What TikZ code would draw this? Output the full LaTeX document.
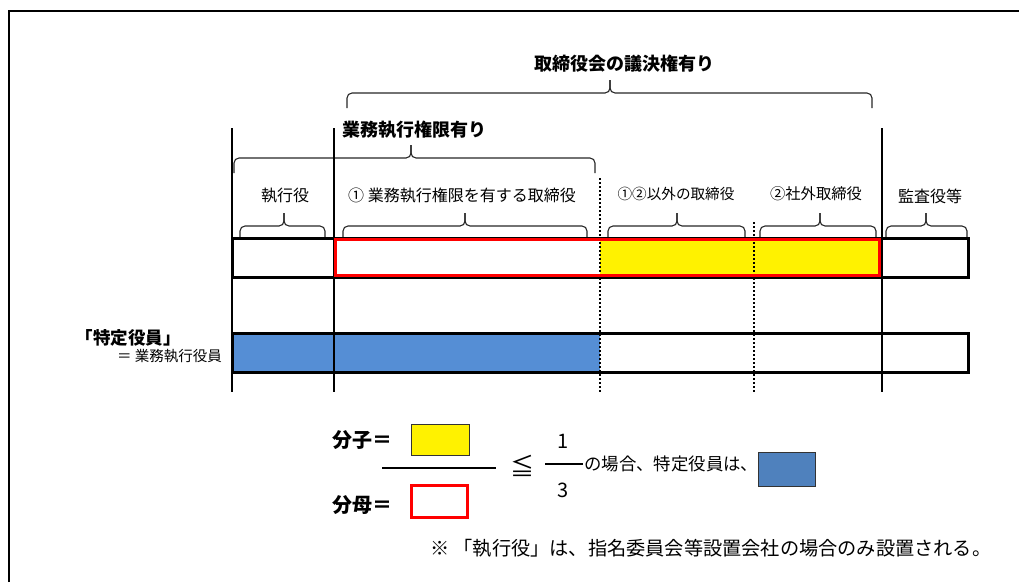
\documentclass[tikz,border=0pt]{standalone}
\usepackage{fontspec}
\setmainfont{Noto Sans CJK JP}
\definecolor{barblue}{RGB}{85,142,213}
\definecolor{boxblue}{RGB}{79,129,189}
\newcommand{\mybrace}[6]{%
  \draw[bracestyle] (#1,#4) -- (#1,#5) -- (#3,#5) -- (#3,#6);
  \draw[bracestyle] (#2,#4) -- (#2,#5) -- (#3,#5) -- (#3,#6);}
\begin{document}
\begin{tikzpicture}[x=1pt,y=-1pt,
  bracestyle/.style={line width=1.1pt,rounded corners=5pt,black!85},
  lbl/.style={inner sep=0pt,font=\fontsize{16}{16}\selectfont},
  blbl/.style={inner sep=0pt,font=\fontsize{18}{18}\selectfont\bfseries},
  vline/.style={line width=1.2pt},
  dotline/.style={line width=2.2pt,dash pattern=on 2pt off 2pt},
  barout/.style={line width=3pt}]
\useasboundingbox (0,0) rectangle (1019,582);
% frame
\draw[line width=2.5pt] (9,582) -- (9,11) -- (1019,11);
% top labels
\node[blbl] (t1) at (624,64) {取締役会の議決権有り};
\node[blbl,anchor=west] (t2) at (342,130) {業務執行権限有り};
\mybrace{347}{872}{610}{108}{93}{80}
\mybrace{234}{595}{411}{173}{158}{145}
% row labels
\node[lbl] (l1) at (285,196) {執行役};
\node[lbl] (l2) at (462,196) {① 業務執行権限を有する取締役};
\node[lbl,font=\fontsize{14.6}{14.6}\selectfont] (l3) at (676,194) {①②以外の取締役};
\node[lbl,font=\fontsize{15.3}{15.3}\selectfont] (l4) at (816,194) {②社外取締役};
\node[lbl] (l5) at (930,196) {監査役等};
\mybrace{240}{325}{284}{237}{226}{213}
\mybrace{343}{587}{465}{237}{226}{213}
\mybrace{608}{745}{677}{237}{226}{213}
\mybrace{760}{876}{820}{237}{226}{213}
\mybrace{886}{967}{926}{237}{226}{213}
% top bar
\fill[yellow] (600,238) rectangle (881,277);
\draw[barout] (232,238) rectangle (968,277);
% bottom bar
\fill[barblue] (232,333) rectangle (600,372);
\draw[barout] (232,333) rectangle (968,372);
% vertical lines
\draw[vline] (232,128) -- (232,392);
\draw[vline] (334,128) -- (334,392);
\draw[line width=2.2pt] (882,128) -- (882,392);
\draw[dotline] (600,178) -- (600,392);
\draw[dotline] (754,222) -- (754,392);
% red box
\draw[red,line width=3.5pt] (335.5,239.5) rectangle (879.5,275.5);
% left label
\node[blbl,font=\fontsize{17.5}{17.5}\selectfont\bfseries] (sp) at (128,338) {「特定役員」};
\node[lbl,font=\fontsize{14.5}{14.5}\selectfont,anchor=east] (sp2) at (222,356) {＝ 業務執行役員};
% formula
\node[blbl,font=\fontsize{20}{20}\selectfont\bfseries,anchor=west] (bunshi) at (332,440) {分子＝};
\node[blbl,font=\fontsize{20}{20}\selectfont\bfseries,anchor=west] (bunbo) at (332,505) {分母＝};
\node[draw=black!80,line width=1pt,fill=yellow,minimum width=58pt,minimum height=31pt,inner sep=0pt] (yb) at (440,439.5) {};
\node[draw=red,line width=3pt,minimum width=56pt,minimum height=32pt,inner sep=0pt] (rb) at (439.5,501) {};
\coordinate (fl1) at (382,468);
\coordinate (fl2) at (496,468);
\draw[line width=1.5pt] (fl1) -- (fl2);
\node[inner sep=0pt,font=\fontsize{24}{24}\selectfont] (leq) at (522,466) {≦};
\node[lbl,font=\fontsize{20}{20}\selectfont] (one) at (563,441) {1};
\node[lbl,font=\fontsize{20}{20}\selectfont] (three) at (563,490) {3};
\coordinate (ol1) at (545,464);
\coordinate (ol2) at (583,464);
\draw[line width=1.3pt] (ol1) -- (ol2);
\node[lbl,font=\fontsize{17.4}{17.4}\selectfont,anchor=west] (case) at (584,464) {の場合、特定役員は、};
\node[draw=black!80,line width=1pt,fill=boxblue,minimum width=57pt,minimum height=34pt,inner sep=0pt] (bb) at (786.5,469) {};
% note
\node[lbl,font=\fontsize{19.2}{19.2}\selectfont,anchor=west] (note) at (430,548) {※ 「執行役」は、指名委員会等設置会社の場合のみ設置される。};
\end{tikzpicture}
\end{document}
